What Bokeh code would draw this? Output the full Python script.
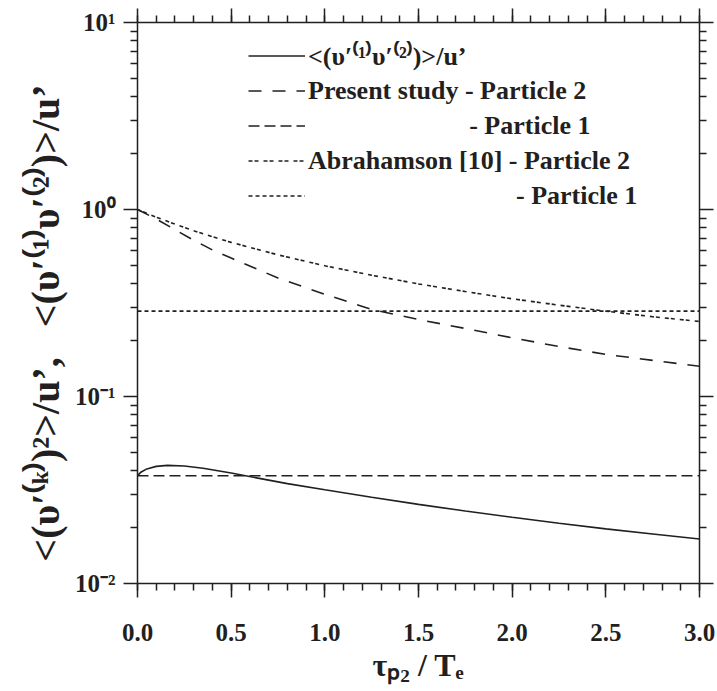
from bokeh.plotting import figure
from bokeh.models import (Legend, LegendItem, FixedTicker, CustomJSTickFormatter,
                          LinearAxis, LogAxis, Range1d)
from bokeh.embed import file_html
from bokeh.resources import INLINE

# ---------------- data ----------------
x_cross = [0, 0.02, 0.05, 0.1, 0.16, 0.25, 0.35, 0.5, 0.65, 0.8, 1.0, 1.25,
           1.5, 1.75, 2.0, 2.25, 2.5, 2.75, 3.0]
cross_corr = [0.0377, 0.0395, 0.0410, 0.0423, 0.0428, 0.0425, 0.0413, 0.0390,
              0.0365, 0.0342, 0.0317, 0.0289, 0.0265, 0.0244, 0.0226, 0.0210,
              0.0196, 0.0184, 0.0173]

x_p2 = [0, 0.1, 0.2, 0.3, 0.4, 0.5, 0.75, 1.0, 1.25, 1.5, 1.75, 2.0, 2.25,
        2.5, 2.75, 3.0]
present_p2 = [1.0, 0.89, 0.78, 0.685, 0.608, 0.55, 0.43, 0.352, 0.292, 0.258,
              0.231, 0.206, 0.185, 0.168, 0.156, 0.145]
abrahamson_p2 = [1.0, 0.91, 0.835, 0.77, 0.715, 0.667, 0.572, 0.50, 0.445,
                 0.40, 0.364, 0.333, 0.308, 0.286, 0.267, 0.252]

x_p1 = [0, 3.0]
present_p1 = [0.0377, 0.0377]
abrahamson_p1 = [0.286, 0.286]

x_tick_values = [0.0, 0.5, 1.0, 1.5, 2.0, 2.5, 3.0]
x_tick_labels = ["0.0", "0.5", "1.0", "1.5", "2.0", "2.5", "3.0"]
y_tick_values = [0.01, 0.1, 1, 10]
y_tick_labels = ["10⁻²", "10⁻¹", "10⁰", "10¹"]

legend_labels = [
    "<(υ′⁽¹⁾υ′⁽²⁾)>/u’",
    "Present study - Particle 2",
    "\u2003" * 6 + "\u2009- Particle 1",
    "Abrahamson [10] - Particle 2",
    "\u2003" * 8 + "- Particle 1",
]

x_title = "τₚ₂ / Tₑ"
y_title = "<(υ′⁽ᵏ⁾)²>/u’,\u2002 <(υ′⁽¹⁾υ′⁽²⁾)>/u’\u2003"

INK = "#231f20"
FONT = "Liberation Serif"

# ---------------- figure ----------------
p = figure(width=717, height=691, y_axis_type="log",
           x_range=Range1d(0, 3.0), y_range=Range1d(0.01, 10),
           output_backend="svg", toolbar_location=None,
           min_border_left=137, min_border_right=18,
           min_border_top=22, min_border_bottom=108)
p.outline_line_color = None
p.xgrid.visible = False
p.ygrid.visible = False
p.background_fill_color = "white"
p.border_fill_color = "white"

x_minor = [i / 10 for i in range(31)]
y_minor = [m * 10.0 ** e for e in range(-2, 1) for m in range(2, 10)]

fmt_code = """
for (let i = 0; i < vals.length; i++) {
  if (Math.abs(tick - vals[i]) <= 1e-6 * Math.max(1e-12, Math.abs(vals[i]))) return labs[i];
  if (vals[i] == 0 && Math.abs(tick) < 1e-9) return labs[i];
}
return "";
"""
empty_fmt = CustomJSTickFormatter(code="return '';")


def style_axis(ax, labels=True):
    ax.axis_line_color = INK
    ax.axis_line_width = 1.5
    ax.major_tick_line_color = INK
    ax.major_tick_line_width = 1.5
    ax.minor_tick_line_color = INK
    ax.minor_tick_line_width = 1.5
    ax.major_tick_in = 0
    ax.major_tick_out = 14
    ax.minor_tick_in = 0
    ax.minor_tick_out = 7
    ax.major_label_text_font = FONT
    ax.major_label_text_font_style = "bold"
    ax.major_label_text_color = INK
    ax.major_label_text_font_size = "25px"
    if not labels:
        ax.major_label_text_font_size = "0px"
        ax.major_label_standoff = 0
        ax.formatter = empty_fmt


xb = p.xaxis[0]
xb.ticker = FixedTicker(ticks=x_tick_values, minor_ticks=x_minor)
xb.formatter = CustomJSTickFormatter(args=dict(vals=x_tick_values, labs=x_tick_labels), code=fmt_code)
style_axis(xb)
xb.major_label_standoff = 26
xb.axis_label = x_title
xb.axis_label_text_font = FONT
xb.axis_label_text_font_style = "bold"
xb.axis_label_text_font_size = "32px"
xb.axis_label_text_color = INK
xb.axis_label_standoff = 3

yl = p.yaxis[0]
yl.ticker = FixedTicker(ticks=y_tick_values, minor_ticks=y_minor)
yl.formatter = CustomJSTickFormatter(args=dict(vals=y_tick_values, labs=y_tick_labels), code=fmt_code)
style_axis(yl)
yl.major_label_standoff = 8
yl.axis_label = y_title
yl.axis_label_text_font = FONT
yl.axis_label_text_font_style = "bold"
yl.axis_label_text_font_size = "40px"
yl.axis_label_text_color = INK
yl.axis_label_standoff = 4

top = LinearAxis(ticker=FixedTicker(ticks=x_tick_values, minor_ticks=x_minor))
style_axis(top, labels=False)
p.add_layout(top, "above")

right = LogAxis(ticker=FixedTicker(ticks=y_tick_values, minor_ticks=y_minor))
style_axis(right, labels=False)
p.add_layout(right, "right")

# ---------------- curves ----------------
lw = 1.6
r_cross = p.line(x_cross, cross_corr, line_color=INK, line_width=lw)
r_pp2 = p.line(x_p2, present_p2, line_color=INK, line_width=lw, line_dash="13 11")
r_pp1 = p.line(x_p1, present_p1, line_color=INK, line_width=lw, line_dash="11 5")
r_ap2 = p.line(x_p2, abrahamson_p2, line_color=INK, line_width=lw, line_dash="4 2 4 5")
r_ap1 = p.line(x_p1, abrahamson_p1, line_color=INK, line_width=lw, line_dash="4 3")

renderers = [r_cross, r_pp2, r_pp1, r_ap2, r_ap1]
legend = Legend(items=[LegendItem(label=l, renderers=[r]) for l, r in zip(legend_labels, renderers)],
                location=(111, 370))
legend.border_line_color = None
legend.background_fill_alpha = 0
legend.padding = 0
legend.margin = 0
legend.spacing = 0
legend.glyph_width = 57
legend.glyph_height = 35
legend.label_height = 35
legend.label_standoff = 3
legend.label_text_font = FONT
legend.label_text_font_style = "bold"
legend.label_text_font_size = "26px"
legend.label_text_color = INK
legend.label_text_baseline = "middle"
p.add_layout(legend)

open("out.html", "w").write(file_html(p, INLINE))
